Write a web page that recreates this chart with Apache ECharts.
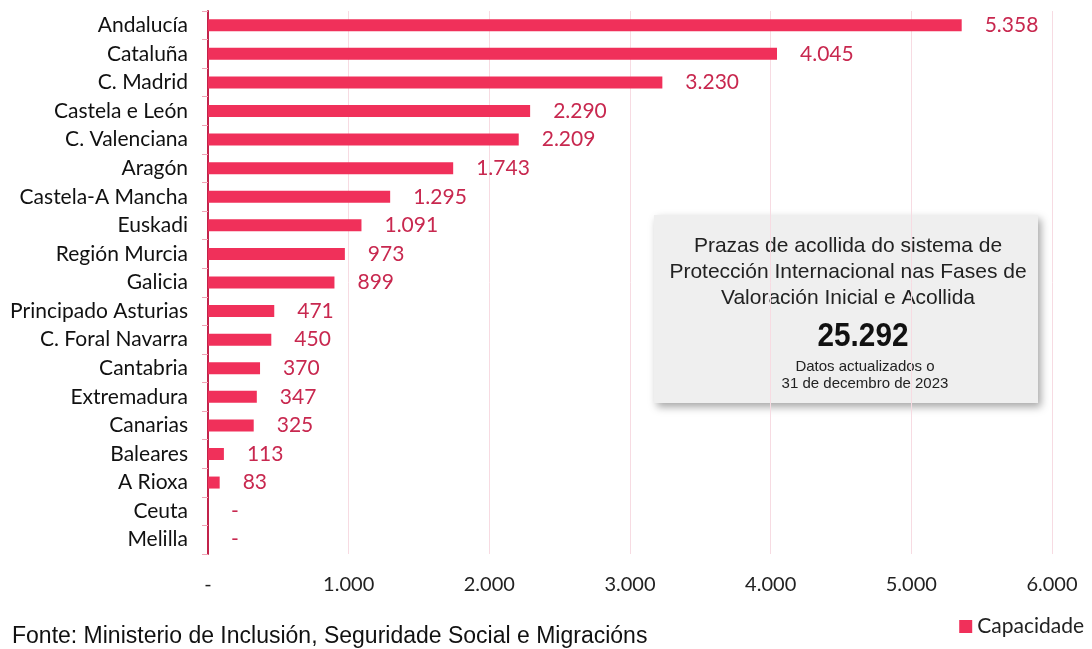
<!DOCTYPE html>
<html><head><meta charset="utf-8">
<script src="https://cdn.jsdelivr.net/npm/echarts@6/dist/echarts.min.js"></script>
<style>html,body{margin:0;padding:0;background:#fff}#c{width:1092px;height:649px}</style>
</head><body><div id="c"></div>
<script>
const categories = ["Andalucía","Cataluña","C. Madrid","Castela e León","C. Valenciana","Aragón","Castela-A Mancha","Euskadi","Región Murcia","Galicia","Principado Asturias","C. Foral Navarra","Cantabria","Extremadura","Canarias","Baleares","A Rioxa","Ceuta","Melilla"];
const capacidade = [5358,4045,3230,2290,2209,1743,1295,1091,973,899,471,450,370,347,325,113,83,0,0];
const xTicks = {min:0, max:6000, interval:1000};
const seriesName = "Capacidade";
const boxTitle = ["Prazas de acollida do sistema de","Protección Internacional nas Fases de","Valoración Inicial e Acollida"];
const boxTotal = "25.292";
const boxNote = ["Datos actualizados o","31 de decembro de 2023"];
const source = "Fonte: Ministerio de Inclusión, Seguridade Social e Migracións";

function fmt(v){ if(v===0) return "-"; return String(v).replace(/\B(?=(\d{3})+(?!\d))/g,"."); }

const chart = echarts.init(document.getElementById('c'), null, {renderer:'canvas'});
const labelFont = "Lato, 'Open Sans', sans-serif";
const arial = "'Liberation Sans', Arial, sans-serif";
chart.setOption({
  animation:false,
  backgroundColor:'#fff',
  grid:{left:208,right:40,top:11,bottom:95,containLabel:false},
  xAxis:{type:'value',min:xTicks.min,max:xTicks.max,interval:xTicks.interval,
    axisLine:{show:false},axisTick:{show:false},
    splitLine:{show:true,lineStyle:{color:'#f7dbe2',width:1}},
    axisLabel:{formatter:fmt,color:'#222',fontSize:20,fontFamily:labelFont,margin:21}},
  yAxis:{type:'category',data:categories,inverse:true,
    axisLine:{show:true,lineStyle:{color:'#c2234b',width:2}},
    axisTick:{show:true,length:6,lineStyle:{color:'#f0a5b6'}},
    axisLabel:{color:'#111',fontSize:21,fontFamily:labelFont,margin:20}},
  legend:{data:[seriesName],right:8,top:616,padding:0,icon:'rect',itemWidth:13,itemHeight:13,itemGap:7,
    textStyle:{fontSize:21,color:'#222',fontFamily:labelFont}},
  title:{text:source,left:12,top:625,padding:0,textStyle:{fontSize:23,fontWeight:'normal',color:'#111',fontFamily:arial}},
  series:[{name:seriesName,type:'bar',data:capacidade,barWidth:12,
    itemStyle:{color:'#f0305a'},
    label:{show:true,position:'right',distance:23,formatter:p=>fmt(p.value),color:'#c8284f',fontSize:21,fontFamily:labelFont}}],
  graphic:[{type:'group',left:654,top:215,children:[
    {type:'rect',shape:{x:0,y:0,width:384,height:188},style:{fill:'#efefef',shadowBlur:8,shadowOffsetX:3,shadowOffsetY:4,shadowColor:'rgba(0,0,0,0.35)'}},
    {type:'text',style:{x:194,y:31,text:boxTitle[0],align:'center',verticalAlign:'middle',fontSize:21,fill:'#222',fontFamily:arial}},
    {type:'text',style:{x:194,y:57,text:boxTitle[1],align:'center',verticalAlign:'middle',fontSize:21,fill:'#222',fontFamily:arial}},
    {type:'text',style:{x:194,y:83,text:boxTitle[2],align:'center',verticalAlign:'middle',fontSize:21,fill:'#222',fontFamily:arial}},
    {type:'text',x:209,y:122,scaleX:0.9,style:{x:0,y:0,text:boxTotal,align:'center',verticalAlign:'middle',fontSize:33,fontWeight:'bold',fill:'#111',fontFamily:arial}},
    {type:'text',style:{x:211,y:152,text:boxNote[0],align:'center',verticalAlign:'middle',fontSize:15,fill:'#222',fontFamily:arial}},
    {type:'text',style:{x:211,y:169,text:boxNote[1],align:'center',verticalAlign:'middle',fontSize:15,fill:'#222',fontFamily:arial}}
  ]}]
});
</script></body></html>
